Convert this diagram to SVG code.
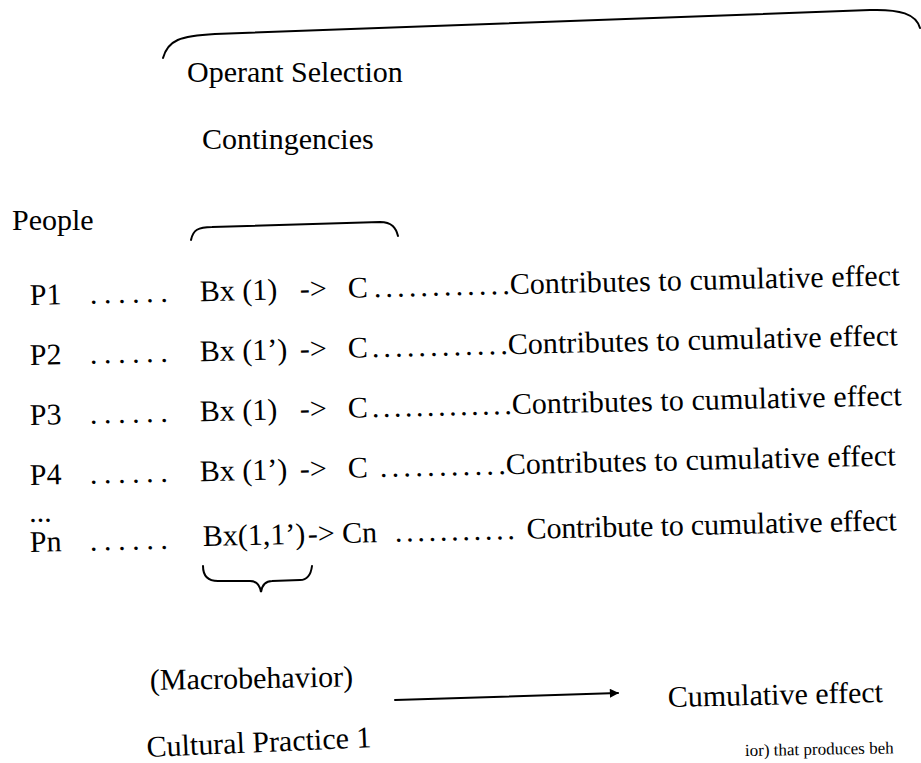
<svg xmlns="http://www.w3.org/2000/svg" width="921" height="763" viewBox="0 0 921 763">
<defs>
<style>
.t{font-family:"Liberation Serif","Times New Roman",serif;font-size:30px;fill:#000}
.s{font-family:"Liberation Serif","Times New Roman",serif;font-size:17px;fill:#000}
.ln{fill:none;stroke:#000;stroke-width:2;stroke-linecap:round}
</style>
<marker id="ah" viewBox="0 0 10 10" refX="9" refY="5" markerWidth="5" markerHeight="4.5" orient="auto"><path d="M0,0 L10,5 L0,10 z" fill="#000"/></marker>
</defs>
<rect width="921" height="763" fill="#fff"/>
<g id="connectors">
<path class="ln" d="M163,58 C168,40 180,36 215,34 L870,10 C900,9 916,14 920,28"/>
<path class="ln" d="M191,240 C193,230 198,227 212,227 L380,222 C392,222 396,228 398,236"/>
<path class="ln" d="M203,566 C203,576 208,581 218,581 L250,581 C257,581 260,586 261,592 C262,586 265,581 272,581 L300,580 C308,580 311,574 312,566"/>
<path class="ln" d="M395,700 L618,693" marker-end="url(#ah)" stroke-width="3"/>
</g>
<g id="header">
<text class="t" x="187" y="82">Operant Selection</text>
<text class="t" x="202" y="149">Contingencies</text>
<text class="t" x="12" y="230">People</text>
</g>
<g id="row1" transform="rotate(-1.3 30 305)">
<text class="t" x="30" y="305">P1</text>
<text class="t" x="90" y="305" textLength="78">......</text>
<text class="t" x="200" y="305">Bx (1)</text>
<text class="t" x="300" y="305">-&gt;</text>
<text class="t" x="348" y="305">C</text>
<text class="t" x="374" y="305" textLength="136">............</text>
<text class="t" x="510" y="305" textLength="390">Contributes to cumulative effect</text>
</g>
<g id="row2" transform="rotate(-1.3 30 365)">
<text class="t" x="30" y="365">P2</text>
<text class="t" x="90" y="365" textLength="78">......</text>
<text class="t" x="200" y="365">Bx (1’)</text>
<text class="t" x="300" y="365">-&gt;</text>
<text class="t" x="348" y="365">C</text>
<text class="t" x="372" y="365" textLength="136">............</text>
<text class="t" x="508" y="365" textLength="390">Contributes to cumulative effect</text>
</g>
<g id="row3" transform="rotate(-1.3 30 425)">
<text class="t" x="30" y="425">P3</text>
<text class="t" x="90" y="425" textLength="78">......</text>
<text class="t" x="200" y="425">Bx (1)</text>
<text class="t" x="300" y="425">-&gt;</text>
<text class="t" x="348" y="425">C</text>
<text class="t" x="372" y="425" textLength="140">.............</text>
<text class="t" x="512" y="425" textLength="390">Contributes to cumulative effect</text>
</g>
<g id="row4" transform="rotate(-1.3 30 485)">
<text class="t" x="30" y="485">P4</text>
<text class="t" x="90" y="485" textLength="78">......</text>
<text class="t" x="200" y="485">Bx (1’)</text>
<text class="t" x="300" y="485">-&gt;</text>
<text class="t" x="348" y="485">C</text>
<text class="t" x="380" y="485" textLength="126">...........</text>
<text class="t" x="506" y="485" textLength="390">Contributes to cumulative effect</text>
</g>
<g id="row5" transform="rotate(-1.3 30 550)">
<text class="t" x="30" y="522">...</text>
<text class="t" x="30" y="552">Pn</text>
<text class="t" x="90" y="552" textLength="78">......</text>
<text class="t" x="203" y="550">Bx(1,1’)</text>
<text class="t" x="308" y="550">-&gt; Cn</text>
<text class="t" x="395" y="550" textLength="120">...........</text>
<text class="t" x="527" y="550" textLength="370">Contribute to cumulative effect</text>
</g>
<g id="macro" transform="rotate(-1 150 690)">
<text class="t" x="150" y="690">(Macrobehavior)</text>
</g>
<g id="cumulative" transform="rotate(-1.3 668 707)">
<text class="t" x="668" y="707">Cumulative effect</text>
</g>
<g id="practice" transform="rotate(-2.5 147 757)">
<text class="t" x="147" y="757">Cultural Practice 1</text>
</g>
<g id="fragment" transform="rotate(-1 745 756)">
<text class="s" x="745" y="756">ior) that produces beh</text>
</g>
</svg>
